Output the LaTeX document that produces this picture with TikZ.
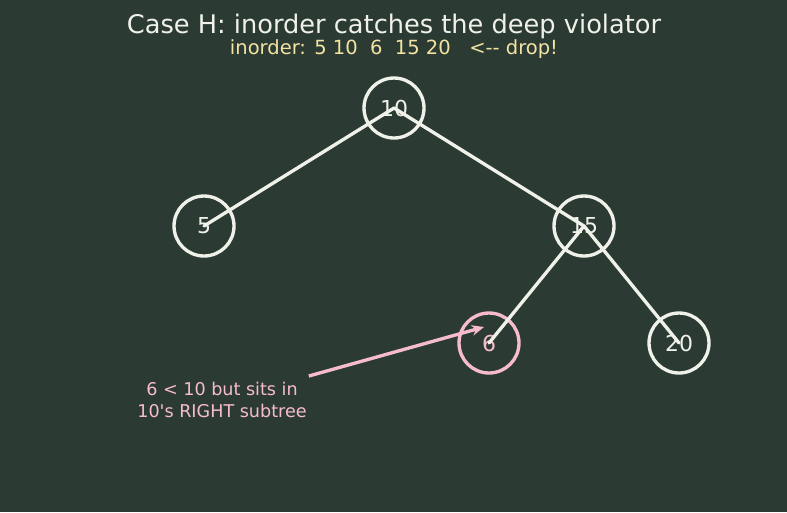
\documentclass[tikz,border=0pt]{standalone}
\usepackage{fontspec}
\setmainfont{DejaVu Sans}
\usetikzlibrary{arrows.meta}
\definecolor{board}{HTML}{2B3B34}
\definecolor{chalk}{HTML}{F0F2EA}
\definecolor{rose}{HTML}{F6BCCD}
\definecolor{butter}{HTML}{F3E3A2}
\tikzset{
  treenode/.style={circle, draw=chalk, line width=1.9pt, minimum size=1.2cm, inner sep=0pt, text=chalk, font=\fontsize{12.5}{14}\selectfont},
  badnode/.style={treenode, draw=rose, text=rose},
  edge/.style={draw=chalk, line width=1.9pt, line cap=round},
  note/.style={text=rose, align=center, font=\fontsize{10}{12.5}\selectfont}
}

\begin{document}
\begin{tikzpicture}[x=0.02cm, y=-0.02cm]
            \fill[board] (0,0) rectangle (787,512);
            \useasboundingbox (0,0) rectangle (787,512);

            \node[text=chalk, font=\fontsize{14.6}{17}\selectfont] (title) at (394,26) {Case H: inorder catches the deep violator};
            \node[text=butter, font=\fontsize{11.1}{13}\selectfont] (order) at (394,49) {inorder: 5 10~~6~~15 20~~~<-{}- drop!};

            \node[treenode] (n10) at (394,108) {10};
            \node[treenode] (n5) at (204,226) {5};
            \node[treenode] (n15) at (584,226) {15};
            \node[badnode] (n6) at (489,343) {6};
            \node[treenode] (n20) at (679,343) {20};

            \draw[edge] (n10.center) -- (n5.center);
            \draw[edge] (n10.center) -- (n15.center);
            \draw[edge] (n15.center) -- (n6.center);
            \draw[edge] (n15.center) -- (n20.center);

            \node[note] (why) at (222,400) {6 < 10 but sits in\\10\textquotesingle s RIGHT subtree};
            \coordinate (tip) at (484,327);
            \draw[rose, line width=1.9pt, -{Stealth[length=7pt, width=6pt]}] (why.north east) ++(-4,0) -- (tip);
        \end{tikzpicture}
\end{document}
